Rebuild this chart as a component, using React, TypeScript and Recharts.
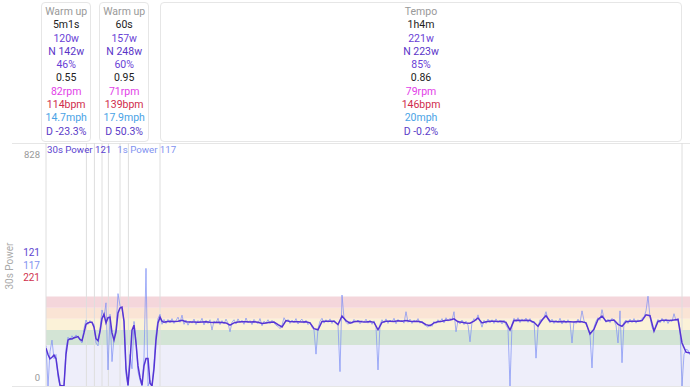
import { LineChart, Line, XAxis, YAxis, ReferenceArea, ReferenceLine } from "recharts";

// 30s power, warm-up part: one value every 0.25 min from 0 to 15 min
const warmup30s = [
  132, 110, 95, 100, 108, 95, 45, 3, 0, 2,
  110, 160, 165, 164, 168, 170, 172, 162, 158, 185,
  215, 220, 222, 222, 205, 165, 158, 190, 235, 250,
  220, 238, 240, 185, 160, 189, 255, 272, 275, 225,
  60, 3, 85, 195, 212, 150, 70, 30, 3, 70,
  96, 96, 10, 0, 60, 160, 220, 240, 226, 222,
  224,
];

// 30s power, tempo part: one value every 0.5 min from 15.5 to 80.5 min
const tempo30s = [
  226, 225, 226, 229, 224, 223, 223, 222, 223, 224,
  222, 221, 222, 221, 220, 212, 220, 223, 224, 224,
  223, 224, 222, 218, 220, 222, 223, 214, 206, 228,
  225, 224, 224, 223, 224, 220, 200, 196, 225, 226,
  226, 226, 214, 244, 228, 219, 224, 226, 224, 223,
  225, 222, 196, 222, 226, 226, 225, 227, 226, 228,
  226, 225, 226, 222, 214, 210, 220, 224, 226, 229,
  230, 234, 224, 222, 220, 219, 226, 237, 220, 224,
  226, 226, 225, 226, 222, 195, 228, 229, 228, 229,
  228, 222, 208, 230, 245, 226, 225, 224, 225, 224,
  224, 223, 225, 224, 220, 181, 198, 232, 244, 226,
  228, 230, 215, 208, 224, 226, 226, 226, 228, 248,
  245, 191, 225, 229, 229, 228, 230, 232, 150, 118,
  115,
];

// 1s power: one value every 0.25 min from 0 to 80.5 min
const power1s = [
  140, 0, 120, 160, 95, 110, 30, 0, 0, 0,
  130, 170, 160, 175, 165, 178, 170, 160, 150, 200,
  230, 215, 228, 218, 215, 150, 140, 200, 265, 240,
  290, 56, 250, 85, 170, 200, 322, 280, 270, 230,
  40, 0, 110, 60, 225, 160, 50, 20, 0, 100,
  410, 0, 20, 0, 80, 180, 235, 250, 215, 232,
  218,
  232, 220, 235, 218, 228, 240, 222, 247, 215, 230, 212, 226, 219, 233, 214, 228, 221, 236, 213, 229,
  218, 231, 195, 227, 220, 236, 214, 228, 217, 233, 219, 189, 222, 231, 216, 234, 221, 229, 215, 237,
  220, 228, 214, 232, 222, 218, 235, 210, 226, 219, 231, 217, 229, 220, 212, 208, 200, 212, 238, 224,
  232, 218, 230, 221, 235, 216, 227, 233, 219, 229, 214, 222, 205, 195, 111, 200, 226, 236, 219, 231,
  222, 234, 218, 229, 221, 212, 50, 317, 236, 222, 215, 226, 218, 232, 223, 230, 217, 228, 221, 233,
  219, 229, 215, 227, 206, 56, 215, 231, 220, 234, 218, 230, 223, 236, 217, 232, 224, 229, 219, 259,
  222, 233, 218, 230, 224, 235, 219, 226, 214, 210, 205, 216, 208, 225, 218, 231, 222, 235, 220, 238,
  226, 236, 229, 259, 189, 228, 216, 230, 214, 226, 212, 154, 222, 235, 228, 248, 226, 205, 229, 218,
  233, 220, 231, 218, 234, 221, 229, 216, 230, 212, 200, 0, 215, 236, 224, 238, 221, 234, 226, 237,
  222, 235, 220, 226, 97, 204, 231, 226, 240, 259, 232, 220, 233, 218, 229, 221, 236, 216, 230, 219,
  231, 222, 150, 226, 218, 233, 220, 262, 228, 215, 200, 178, 63, 205, 226, 238, 229, 266, 236, 222,
  233, 221, 236, 228, 212, 150, 262, 81, 222, 230, 218, 233, 221, 235, 219, 231, 224, 236, 240, 262,
  313, 240, 205, 191, 215, 232, 220, 236, 222, 234, 218, 231, 225, 252, 228, 235, 200, 0, 110, 128,
  125, 108,
];

const intervalEdges = [0, 5.05, 6.05, 7.0, 7.8, 9.25, 10.3, 14.25, 79.5];
const zoneLimits = [0, 143, 195, 234, 273, 312];
const yTicks = [0, 828];

const intervals = [
  { name: "Warm up", start: 0, end: 5.05, time: "5m1s", avg: "120w", np: "N 142w", pct: "46%", factor: "0.55", cad: "82rpm", hr: "114bpm", speed: "14.7mph", drift: "D -23.3%" },
  { name: "Warm up", start: 9.25, end: 10.3, time: "60s", avg: "157w", np: "N 248w", pct: "60%", factor: "0.95", cad: "71rpm", hr: "139bpm", speed: "17.9mph", drift: "D 50.3%" },
  { name: "Tempo", start: 14.25, end: 79.5, time: "1h4m", avg: "221w", np: "N 223w", pct: "85%", factor: "0.86", cad: "79rpm", hr: "146bpm", speed: "20mph", drift: "D -0.2%" },
];

const ZONE_COLORS = ["#eeeefa", "#d3e4d5", "#fbf2d8", "#fae4d5", "#f4d6db"];
const FONT = "Roboto, sans-serif";
const PLOT_LEFT = 46;
const PX_PER_MIN = 8;

const avg30Data = [
  ...warmup30s.map((w, i) => ({ t: i * 0.25, w })),
  ...tempo30s.map((w, i) => ({ t: 15.5 + i * 0.5, w })),
];
const raw1sData = power1s.map((w, i) => ({ t: i * 0.25, w }));

function PowerTick({ y, payload }: any) {
  const isTop = payload.value !== 0;
  return (
    <text x={40} y={isTop ? y + 10 : y - 5} textAnchor="end" fill="#999" fontSize={9.5} fontFamily={FONT}>
      {payload.value}
    </text>
  );
}

function IntervalBox({ iv }: { iv: (typeof intervals)[number] }) {
  const x0 = PLOT_LEFT + iv.start * PX_PER_MIN;
  const x1 = PLOT_LEFT + iv.end * PX_PER_MIN;
  const width = Math.max(50, x1 - x0);
  const left = (x0 + x1) / 2 - width / 2;
  const rows: [string, string][] = [
    [iv.name, "#999"],
    [iv.time, "#222"],
    [iv.avg, "#6a3fd6"],
    [iv.np, "#5a34c8"],
    [iv.pct, "#6a3fd6"],
    [iv.factor, "#222"],
    [iv.cad, "#e23ee8"],
    [iv.hr, "#d02c4c"],
    [iv.speed, "#4aa3e6"],
    [iv.drift, "#5b3cc8"],
  ];
  return (
    <div
      style={{
        position: "absolute",
        left,
        top: 2,
        width,
        height: 140,
        boxSizing: "border-box",
        border: "1px solid #e6e6e6",
        borderRadius: 4,
        textAlign: "center",
        paddingTop: 2,
        fontSize: 10.5,
        lineHeight: "13.3px",
        whiteSpace: "nowrap",
      }}
    >
      {rows.map(([text, color], i) => (
        <div key={i} style={{ color }}>
          {text}
        </div>
      ))}
    </div>
  );
}

export default function App() {
  return (
    <div style={{ position: "relative", width: 690, height: 389, fontFamily: FONT, background: "#fff", overflow: "hidden" }}>
      <style>{"body{margin:0}"}</style>
      {intervals.map((iv, i) => (
        <IntervalBox key={i} iv={iv} />
      ))}
      <div style={{ position: "absolute", left: 12, right: 0, top: 143, height: 1, background: "#e6e6e6" }} />
      <LineChart width={690} height={389} data={raw1sData} margin={{ top: 143, right: 0, bottom: 3, left: 0 }}>
        <XAxis dataKey="t" type="number" domain={[0, 80.5]} hide allowDataOverflow />
        <YAxis
          type="number"
          domain={[0, 847]}
          ticks={yTicks}
          interval={0}
          width={46}
          axisLine={false}
          tickLine={false}
          tick={<PowerTick />}
          allowDataOverflow
        />
        {zoneLimits.slice(1).map((top, i) => (
          <ReferenceArea key={i} y1={zoneLimits[i]} y2={top} fill={ZONE_COLORS[i]} fillOpacity={1} stroke="none" />
        ))}
        {intervalEdges.map((t, i) => (
          <ReferenceLine key={i} x={t} stroke="#dedede" strokeWidth={1} />
        ))}
        <Line
          data={raw1sData}
          dataKey="w"
          type="linear"
          stroke="#7c8ef5"
          strokeOpacity={0.7}
          strokeWidth={1}
          dot={false}
          isAnimationActive={false}
        />
        <Line
          data={avg30Data}
          dataKey="w"
          type="linear"
          stroke="#5634d4"
          strokeWidth={1.5}
          dot={false}
          isAnimationActive={false}
        />
      </LineChart>
      <div style={{ position: "absolute", left: 12, right: 0, top: 386, height: 1, background: "#e6e6e6" }} />
      <div style={{ position: "absolute", left: 47, top: 143, fontSize: 9.7, lineHeight: "14px", whiteSpace: "nowrap" }}>
        <span style={{ color: "#5b3fd0" }}>30s Power 121</span>
        <span style={{ color: "#7f92f0", marginLeft: 6 }}>1s Power 117</span>
      </div>
      <div style={{ position: "absolute", right: 650, top: 247, fontSize: 10, lineHeight: "12.5px", textAlign: "right" }}>
        <div style={{ color: "#5b3fd0" }}>121</div>
        <div style={{ color: "#7f92f0" }}>117</div>
        <div style={{ color: "#d0304d" }}>221</div>
      </div>
      <div
        style={{
          position: "absolute",
          left: 9,
          top: 266,
          transform: "translate(-50%, -50%) rotate(-90deg)",
          color: "#aaa",
          fontSize: 10,
          whiteSpace: "nowrap",
        }}
      >
        30s Power
      </div>
    </div>
  );
}
